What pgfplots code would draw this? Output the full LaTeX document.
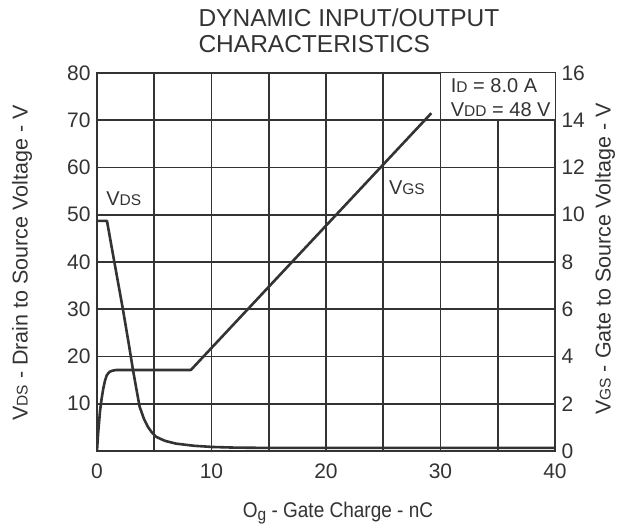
\documentclass[border=0pt]{standalone}
\usepackage{fontspec}
\setmainfont{Liberation Sans}
\usepackage{pgfplots}
\pgfplotsset{compat=1.18}
\definecolor{ink}{HTML}{333333}
\newcommand\sub[1]{{\fontsize{15.5}{15.5}\selectfont #1}}
\begin{document}
\begin{tikzpicture}[x=1pt,y=1pt]
\useasboundingbox (0,0) rectangle (627,527);
\begin{axis}[
  at={(97pt,76pt)}, anchor=south west,
  width=458pt, height=378pt, scale only axis,
  xmin=0, xmax=40, ymin=0, ymax=80,
  xtick={0,10,...,40}, minor xtick={5,15,25,35}, ytick={10,20,...,80},
  tick pos=left, major tick length=0pt, minor tick length=0pt,
  grid=both,
  major grid style={ink, line width=1.6pt},
  minor grid style={ink, line width=1.6pt},
  axis line style={ink, line width=2.8pt},
  /pgf/number format/assume math mode=true,
  ticklabel style={font=\fontsize{21}{21}\selectfont, text=ink},
  xticklabel style={yshift=-9pt},
  yticklabel style={xshift=-3pt},
]
\fill[white] (axis cs:30,70) rectangle (axis cs:40,80);
\draw[ink, line width=1.6pt] (axis cs:30,80) -- (axis cs:30,70) -- (axis cs:40,70);
\node[anchor=west, text=ink, font=\fontsize{20}{20}\selectfont] at (axis cs:30.6,77.4) {I\sub{D} = 8.0 A};
\node[anchor=west, text=ink, font=\fontsize{20}{20}\selectfont] at (axis cs:30.6,72.2) {V\sub{DD} = 48 V};
\node[anchor=west, text=ink, font=\fontsize{20}{20}\selectfont] at (axis cs:0.5,53.4) {V\sub{DS}};
\node[anchor=west, text=ink, font=\fontsize{20}{20}\selectfont] at (axis cs:25.2,55.8) {V\sub{GS}};
\addplot[ink, line width=2.6pt, line join=round] coordinates {
 (0,48.7) (0.87,48.7) (1.5,40.2) (2.27,29.9) (2.8,22.3) (3.14,17.2) (3.45,13)
 (3.72,9.4) (4.1,6.8) (4.45,5.1) (4.8,3.9) (5.17,3.0) (5.6,2.5) (6,2.1) (6.9,1.56)
 (8.5,1.1) (10.1,0.85) (12,0.72) (15,0.65) (20,0.65) (30,0.65) (40,0.65)
};
\end{axis}
\begin{axis}[
  at={(97pt,76pt)}, anchor=south west,
  width=458pt, height=378pt, scale only axis,
  xmin=0, xmax=40, ymin=0, ymax=16,
  ytick={0,2,...,16},
  hide x axis, axis line style={draw=none},
  ytick pos=right, major tick length=0pt,
  /pgf/number format/assume math mode=true,
  ticklabel style={font=\fontsize{21}{21}\selectfont, text=ink},
  yticklabel style={xshift=3pt},
]
\addplot[ink, line width=2.6pt, line join=round] coordinates {
 (0,0) (0.1,0.75) (0.26,1.67) (0.4,2.2) (0.55,2.65) (0.7,2.98) (0.85,3.2) (1.0,3.3)
 (1.13,3.36) (1.35,3.4) (1.7,3.43) (8.2,3.43) (29.2,14.3)
};
\end{axis}
\node[anchor=base west, text=ink, font=\fontsize{24.5}{24.5}\selectfont] at (195,500) {DYNAMIC INPUT/OUTPUT};
\node[anchor=base west, text=ink, font=\fontsize{24.5}{24.5}\selectfont] at (195,474) {CHARACTERISTICS};
\node[rotate=90, text=ink, font=\fontsize{21.5}{21.5}\selectfont] at (22,264) {V\sub{DS} - Drain to Source Voltage - V};
\node[rotate=90, text=ink, font=\fontsize{21.5}{21.5}\selectfont] at (605,268) {V\sub{GS} - Gate to Source Voltage - V};
\node[text=ink, font=\fontsize{19}{19}\selectfont] at (338,14) {\scalebox{1}[1.12]{O\raisebox{-3pt}{\sub{g}} - Gate Charge - nC}};
\end{tikzpicture}
\end{document}
